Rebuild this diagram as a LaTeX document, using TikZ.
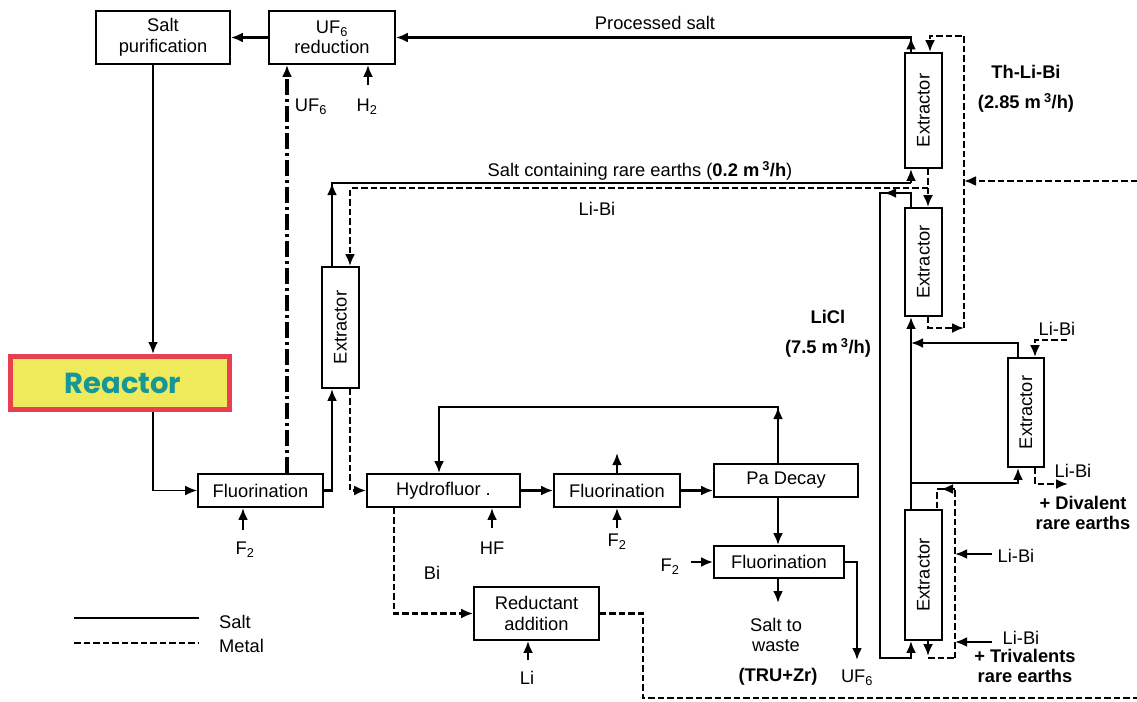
\documentclass[tikz,border=0pt]{standalone}
\usepackage{fontspec}
\setmainfont{Liberation Sans}
\newfontfamily\reactorfont{Poppins}
\usetikzlibrary{arrows.meta,calc}
\definecolor{reactorred}{RGB}{232,64,80}
\definecolor{reactoryellow}{RGB}{238,234,92}
\definecolor{reactorteal}{RGB}{22,150,150}
\tikzset{
  every node/.style={font=\fontsize{18.3}{20.5}\selectfont},
  box/.style={draw, line width=1.9pt, inner sep=0pt, align=center},
  ext/.style={box, minimum width=37pt},
  salt/.style={line width=2.6pt},
  metal/.style={line width=2.2pt, dash pattern=on 6.5pt off 3pt},
  uf6line/.style={line width=3.8pt, dash pattern=on 16pt off 4pt on 3pt off 4pt},
  tip/.style={-{Latex[length=12pt,width=10pt]}},
  sarrow/.style={salt,tip},
  marrow/.style={metal,tip},
  lbl/.style={inner sep=0pt},
  bl/.style={inner sep=0pt, font=\fontsize{18.3}{20.5}\selectfont\bfseries},
}
\begin{document}
\begin{tikzpicture}[x=1pt,y=-1pt]
\useasboundingbox (0,0) rectangle (1137,701);
% columns and rows
\foreach \c in {153,287,332,350,394,439,643,778,880,884,911,928,930,937,941,955,964,1018,1035}{\coordinate (x\c) at (\c,0);}
\foreach \r in {36,183,188,193,328,343,407,483,489,656,658,698}{\coordinate (y\r) at (0,\r);}
% free ends
\coordinate (fl2out) at (617,453);
\coordinate (f2bt) at (617,528);
\coordinate (f2at) at (243,530);
\coordinate (hft) at (492,528);
\coordinate (h2t) at (368,85);
\coordinate (lit) at (528,660);
\coordinate (wastetip) at (778,603);
\coordinate (uf6tip) at (857,660);
\coordinate (f2ct) at (691,562);
\coordinate (libiAt) at (992,554);
\coordinate (libiBt) at (992,642);
\coordinate (rb) at (1137,698);
\coordinate (thin) at (1137,181);
\coordinate (libi3t) at (1067,340);
\coordinate (libi4t) at (1068,484);
\coordinate (leg1a) at (74,618);
\coordinate (leg1b) at (199,618);
\coordinate (leg2a) at (74,643);
\coordinate (leg2b) at (199,643);

% boxes
\node[box, minimum width=134pt, minimum height=53pt] (sp) at (163,37.5) {Salt\\purification};
\node[box, minimum width=126pt, minimum height=53pt] (uf) at (332,37.5) {UF\textsubscript{6}\\reduction};
\node[ext, minimum height=115pt] (ex1) at (923.5,110.5) {\rotatebox{90}{Extractor}};
\node[ext, minimum height=108pt] (ex2) at (923.5,262) {\rotatebox{90}{Extractor}};
\node[ext, minimum width=36pt, minimum height=109pt] (ex3) at (1026,412.5) {\rotatebox{90}{Extractor}};
\node[ext, minimum height=130pt] (ex4) at (923.5,575) {\rotatebox{90}{Extractor}};
\node[ext, minimum height=121pt] (ex0) at (340.5,327.5) {\rotatebox{90}{Extractor}};
\node[draw=reactorred, line width=5pt, fill=reactoryellow, minimum width=219pt, minimum height=53pt, inner sep=0pt,
      text=reactorteal, font=\reactorfont\bfseries\fontsize{29}{31}\selectfont] (reactor) at (120,383) {\hspace*{6pt}Reactor};
\node[box, minimum width=125pt, minimum height=33pt] (fl1) at (260.5,490.5) {Fluorination};
\node[box, minimum width=153pt, minimum height=33pt] (hf) at (443.5,490.5) {Hydrofluor .};
\node[box, minimum width=126pt, minimum height=33pt] (fl2) at (617,490.5) {Fluorination};
\node[box, minimum width=144pt, minimum height=33pt] (pa) at (786,480.5) {Pa Decay};
\node[box, minimum width=130pt, minimum height=32pt] (fl3) at (779,562) {Fluorination};
\node[box, minimum width=125pt, minimum height=53pt] (ra) at (536.5,613.5) {Reductant\\addition};

% labels
\node[lbl] (lprocessed) at (655,23) {Processed salt};
\node[lbl] (lsaltre) at (640,171) {Salt containing rare earths (\textbf{0.2 m\,\textsuperscript{3}/h})};
\node[lbl] (llibi1) at (597,209) {Li-Bi};
\node[bl] (lth) at (1026,72) {Th-Li-Bi};
\node[bl] (lthrate) at (1026,103) {(2.85 m\,\textsuperscript{3}/h)};
\node[bl] (llicl) at (828,317) {LiCl};
\node[bl] (llicrate) at (828,348) {(7.5 m\,\textsuperscript{3}/h)};
\node[lbl] (llibi3) at (1057,329) {Li-Bi};
\node[lbl] (llibi4) at (1073,471) {Li-Bi};
\node[bl, align=center] (ldival) at (1083,513) {+ Divalent\\rare earths};
\node[lbl] (llibi5) at (1016,556) {Li-Bi};
\node[lbl] (llibi6) at (1021,638) {Li-Bi};
\node[bl, align=center] (ltrival) at (1025,666) {+ Trivalents\\rare earths};
\node[lbl] (luf6a) at (311,107) {UF\textsubscript{6}};
\node[lbl] (lh2) at (367,107) {H\textsubscript{2}};
\node[lbl] (lf2a) at (245,550) {F\textsubscript{2}};
\node[lbl] (lhf) at (492,548) {HF};
\node[lbl] (lf2b) at (617,542) {F\textsubscript{2}};
\node[lbl] (lbi) at (432,573) {Bi};
\node[lbl] (lli) at (527,678) {Li};
\node[lbl] (lf2c) at (670,567) {F\textsubscript{2}};
\node[lbl, align=center] (lwaste) at (776,635) {Salt to\\waste};
\node[bl] (ltru) at (778,677) {(TRU+Zr)};
\node[lbl] (luf6b) at (857,678) {UF\textsubscript{6}};
\node[lbl, anchor=west] (lleg1) at (219,622) {Salt};
\node[lbl, anchor=west] (lleg2) at (219,646) {Metal};

% salt connectors
\draw[sarrow] (uf.west) -- (sp.east);
\draw[sarrow] (ex1.north -| x911) |- (uf.east);
\draw[sarrow] (ex1.north -| x911) -- (x911 |- uf.east);
\draw[sarrow] (sp.south -| x153) -- (reactor.north -| x153);
\draw[tip, line width=1.8pt] (reactor.south -| x153) |- (fl1.west);
\draw[sarrow] (fl1.east) -| (ex0.south -| x332);
\draw[salt] (ex0.north -| x332) |- (x911 |- y183);
\draw[sarrow] (x911 |- y183) -- (ex1.south -| x911);
\draw[sarrow] (ex0.north -| x332) -- (x332 |- y183);
\draw[sarrow] (ex2.north -| x911) |- (x880 |- y193) |- (x911 |- y658) -- (ex4.south -| x911);
\draw[sarrow] (ex2.north -| x911) |- (x884 |- y193);
\draw[sarrow] (ex4.north -| x911) -- (ex2.south -| x911);
\draw[sarrow] (x911 |- y483) -| (ex3.south -| x1018);
\draw[sarrow] (ex3.north -| x1018) |- (x911 |- y343);
\draw[sarrow] (hf.east) -- (fl2.west);
\draw[sarrow] (fl2.east) -- (fl2.east -| pa.west);
\draw[sarrow] (pa.north -| x778) |- (x439 |- y407) -- (hf.north -| x439);
\draw[sarrow] (pa.north -| x778) -- (x778 |- y407);
\draw[sarrow] (fl2.north) -- (fl2out);
\draw[sarrow] (f2bt) -- (fl2.south);
\draw[sarrow] (f2at) -- (fl1.south -| f2at);
\draw[sarrow] (hft) -- (hf.south -| hft);
\draw[sarrow] (h2t) -- (uf.south -| h2t);
\draw[sarrow] (lit) -- (ra.south -| lit);
\draw[sarrow] (pa.south -| x778) -- (fl3.north -| x778);
\draw[sarrow] (fl3.south -| x778) -- (wastetip);
\draw[sarrow] (fl3.east) -| (uf6tip);
\draw[sarrow] (f2ct) -- (fl3.west);
\draw[sarrow] (libiAt) -- (x955 |- libiAt);
\draw[sarrow] (libiBt) -- (x955 |- libiBt);

% UF6 line
\draw[uf6line, tip] (fl1.north -| x287) -- (uf.south -| x287);

% metal connectors
\draw[marrow] (ex1.south -| x928) -- (ex2.north -| x928);
\draw[marrow] (x928 |- y188) -| (ex0.north -| x350);
\draw[marrow] (ex0.south -| x350) |- (hf.west);
\draw[marrow] (hf.south -| x394) |- (ra.west);
\draw[metal] (ra.east) -| (x643 |- y698) -- (rb);
\draw[marrow] (thin) -- (x964 |- thin);
\draw[marrow] (ex2.south -| x928) |- (x964 |- y328);
\draw[marrow] (x964 |- y328) |- (x930 |- y36) -- (ex1.north -| x930);
\draw[marrow] (libi3t) -| (ex3.north -| x1035);
\draw[marrow] (ex3.south -| x1035) |- (libi4t);
\draw[metal] (x955 |- y658) -- (x955 |- y489) -| (ex4.north -| x937);
\draw[marrow] (x955 |- y489) -- (x941 |- y489);
\draw[marrow] (ex4.south -| x928) -- (x928 |- y656);
\draw[metal] (x928 |- y658) -- (x955 |- y658);

% legend
\draw[line width=1.8pt] (leg1a) -- (leg1b);
\draw[metal, line width=1.8pt] (leg2a) -- (leg2b);
\end{tikzpicture}
\end{document}
